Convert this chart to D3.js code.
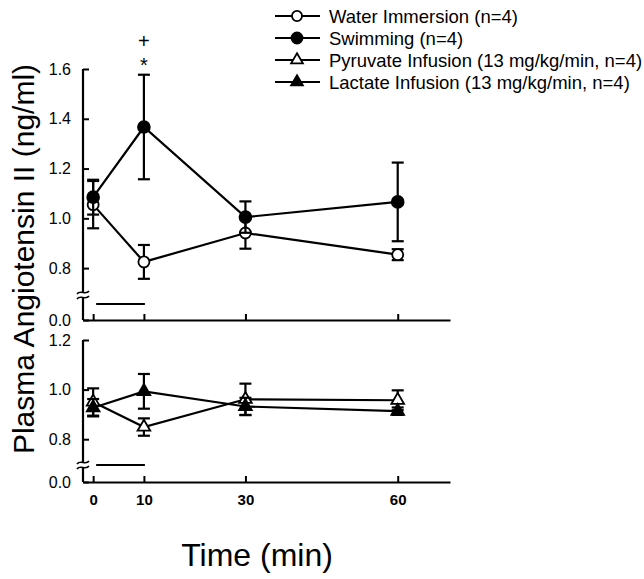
<!DOCTYPE html>
<html>
  <head>
    <style>
      body { margin: 0; background: #fff; }
      text { font-family: Arial, "Liberation Sans", sans-serif; fill: #000; }
    </style>
  </head>
  <body>
    <script src="https://d3js.org/d3.v7.min.js"></script>
    <script>
    var width = 644, height = 579;

    // time points (min)
    var times = [0, 10, 30, 60];

    // top panel
    var waterMean = [1.055, 0.825, 0.941, 0.854];
    var waterErr  = [0.095, 0.068, 0.063, 0.022];
    var swimMean  = [1.085, 1.367, 1.005, 1.066];
    var swimErr   = [0.07, 0.21, 0.063, 0.158];

    // bottom panel
    var pyrMean = [0.95, 0.849, 0.961, 0.957];
    var pyrErr  = [0.055, 0.035, 0.063, 0.04];
    var lacMean = [0.927, 0.993, 0.932, 0.913];
    var lacErr  = [0.035, 0.07, 0.035, 0.015];

    var topTicks = [0, 0.8, 1.0, 1.2, 1.4, 1.6];
    var bottomTicks = [0, 0.8, 1.0, 1.2];

    var legendLabels = ["Water Immersion (n=4)", "Swimming (n=4)",
      "Pyruvate Infusion (13 mg/kg/min, n=4)", "Lactate Infusion (13 mg/kg/min, n=4)"];

    var svg = d3.select("body").append("svg")
        .attr("width", width)
        .attr("height", height);

    var x = d3.scaleLinear().domain([-2, 70.3]).range([83, 450]);

    // broken y axes: 0.0 then a jump to 0.7
    var yTop = d3.scaleLinear().domain([0, 0.7, 1.6]).range([320, 293, 69]);
    var yBot = d3.scaleLinear().domain([0, 0.7, 1.2]).range([482, 464, 340]);

    function panel(y, ticks, series, breakY, barY, showXLabels) {
      var g = svg.append("g");

      // x axis
      var xa = g.append("g")
          .attr("transform", "translate(0," + y(0) + ")")
          .call(d3.axisBottom(x).tickValues(times).tickSize(-6).tickSizeOuter(0).tickPadding(12)
            .tickFormat(showXLabels ? d3.format("d") : ""));
      xa.select(".domain").attr("stroke-width", 2.2);
      xa.selectAll(".tick line").attr("stroke-width", 2);
      xa.selectAll("text").attr("font-size", 15).attr("font-weight", "bold")
        .attr("font-family", "Arial, 'Liberation Sans', sans-serif");

      // y axis
      var ya = g.append("g")
          .attr("transform", "translate(" + x.range()[0] + ",0)")
          .call(d3.axisLeft(y).tickValues(ticks).tickSize(-6).tickSizeOuter(0).tickPadding(12)
            .tickFormat(d3.format(".1f")));
      ya.select(".domain").attr("d", "M0," + y(ticks[ticks.length - 1]) + "V" + y(0)).attr("stroke-width", 2.2);
      ya.selectAll(".tick line").attr("stroke-width", 2);
      ya.selectAll("text").attr("font-size", 16)
        .attr("font-family", "Arial, 'Liberation Sans', sans-serif");

      // axis break
      var bx = x.range()[0];
      g.append("rect").attr("x", bx - 6).attr("y", breakY - 2.5).attr("width", 12).attr("height", 5).attr("fill", "#fff");
      [-2.5, 2.5].forEach(function(o) {
        g.append("path")
          .attr("d", "M" + (bx - 6) + "," + (breakY + o + 1.5) + " C" + (bx - 3) + "," + (breakY + o - 3) + " " + (bx + 3) + "," + (breakY + o + 3) + " " + (bx + 6) + "," + (breakY + o - 1.5))
          .attr("fill", "none").attr("stroke", "#000").attr("stroke-width", 1.6);
      });

      // exercise / infusion period bar
      g.append("line")
        .attr("x1", x(0) + 3).attr("x2", x(10) + 1)
        .attr("y1", barY).attr("y2", barY)
        .attr("stroke", "#000").attr("stroke-width", 2.2);

      series.forEach(function(s) {
        var pts = times.map(function(t, i) { return { t: t, m: s.mean[i], e: s.err[i] }; });
        g.append("path")
          .datum(pts)
          .attr("fill", "none").attr("stroke", "#000").attr("stroke-width", 2.2)
          .attr("d", d3.line().x(function(d) { return x(d.t); }).y(function(d) { return y(d.m); }));

        var eb = g.append("g").selectAll("g").data(pts).enter().append("g");
        eb.append("line")
          .attr("x1", function(d) { return x(d.t); }).attr("x2", function(d) { return x(d.t); })
          .attr("y1", function(d) { return y(d.m + d.e); }).attr("y2", function(d) { return y(d.m - d.e); })
          .attr("stroke", "#000").attr("stroke-width", 2.2);
        [1, -1].forEach(function(sign) {
          eb.append("line")
            .attr("x1", function(d) { return x(d.t) - 6; }).attr("x2", function(d) { return x(d.t) + 6; })
            .attr("y1", function(d) { return y(d.m + sign * d.e); }).attr("y2", function(d) { return y(d.m + sign * d.e); })
            .attr("stroke", "#000").attr("stroke-width", 2.2);
        });

        g.append("g").selectAll("path").data(pts).enter().append("path")
          .attr("transform", function(d) { return "translate(" + x(d.t) + "," + y(d.m) + ")"; })
          .attr("d", d3.symbol().type(s.shape).size(s.size))
          .attr("fill", s.fill).attr("stroke", "#000").attr("stroke-width", 1.8);
      });
      return g;
    }

    panel(yTop, topTicks, [
      { mean: waterMean, err: waterErr, shape: d3.symbolCircle, size: 95, fill: "#fff" },
      { mean: swimMean, err: swimErr, shape: d3.symbolCircle, size: 110, fill: "#000" }
    ], 295, 304, false);

    panel(yBot, bottomTicks, [
      { mean: pyrMean, err: pyrErr, shape: d3.symbolTriangle, size: 70, fill: "#fff" },
      { mean: lacMean, err: lacErr, shape: d3.symbolTriangle, size: 70, fill: "#000" }
    ], 465, 465, true);

    // significance marks
    svg.append("text").attr("x", x(10)).attr("y", 48).attr("text-anchor", "middle")
      .attr("font-size", 20).attr("font-family", "'DejaVu Serif', serif").text("+");
    svg.append("text").attr("x", x(10)).attr("y", 72).attr("text-anchor", "middle")
      .attr("font-size", 20).text("*");

    // legend
    var shapes = [
      { shape: d3.symbolCircle, size: 80, fill: "#fff" },
      { shape: d3.symbolCircle, size: 95, fill: "#000" },
      { shape: d3.symbolTriangle, size: 60, fill: "#fff" },
      { shape: d3.symbolTriangle, size: 60, fill: "#000" }
    ];
    var lg = svg.append("g").selectAll("g").data(legendLabels).enter().append("g")
      .attr("transform", function(d, i) { return "translate(0," + (16 + i * 22) + ")"; });
    lg.append("line").attr("x1", 275).attr("x2", 320).attr("stroke", "#000").attr("stroke-width", 2.2);
    lg.append("path").attr("transform", "translate(297,0)")
      .attr("d", function(d, i) { return d3.symbol().type(shapes[i].shape).size(shapes[i].size)(); })
      .attr("fill", function(d, i) { return shapes[i].fill; })
      .attr("stroke", "#000").attr("stroke-width", 1.8);
    lg.append("text").attr("x", 329).attr("y", 7).attr("font-size", 18.5).text(function(d) { return d; });

    // axis titles
    svg.append("text")
      .attr("transform", "translate(34,259) rotate(-90)")
      .attr("text-anchor", "middle").attr("font-size", 30)
      .text("Plasma Angiotensin II (ng/ml)");
    svg.append("text")
      .attr("x", 257).attr("y", 566).attr("text-anchor", "middle").attr("font-size", 32)
      .text("Time (min)");
    </script>
  </body>
</html>
